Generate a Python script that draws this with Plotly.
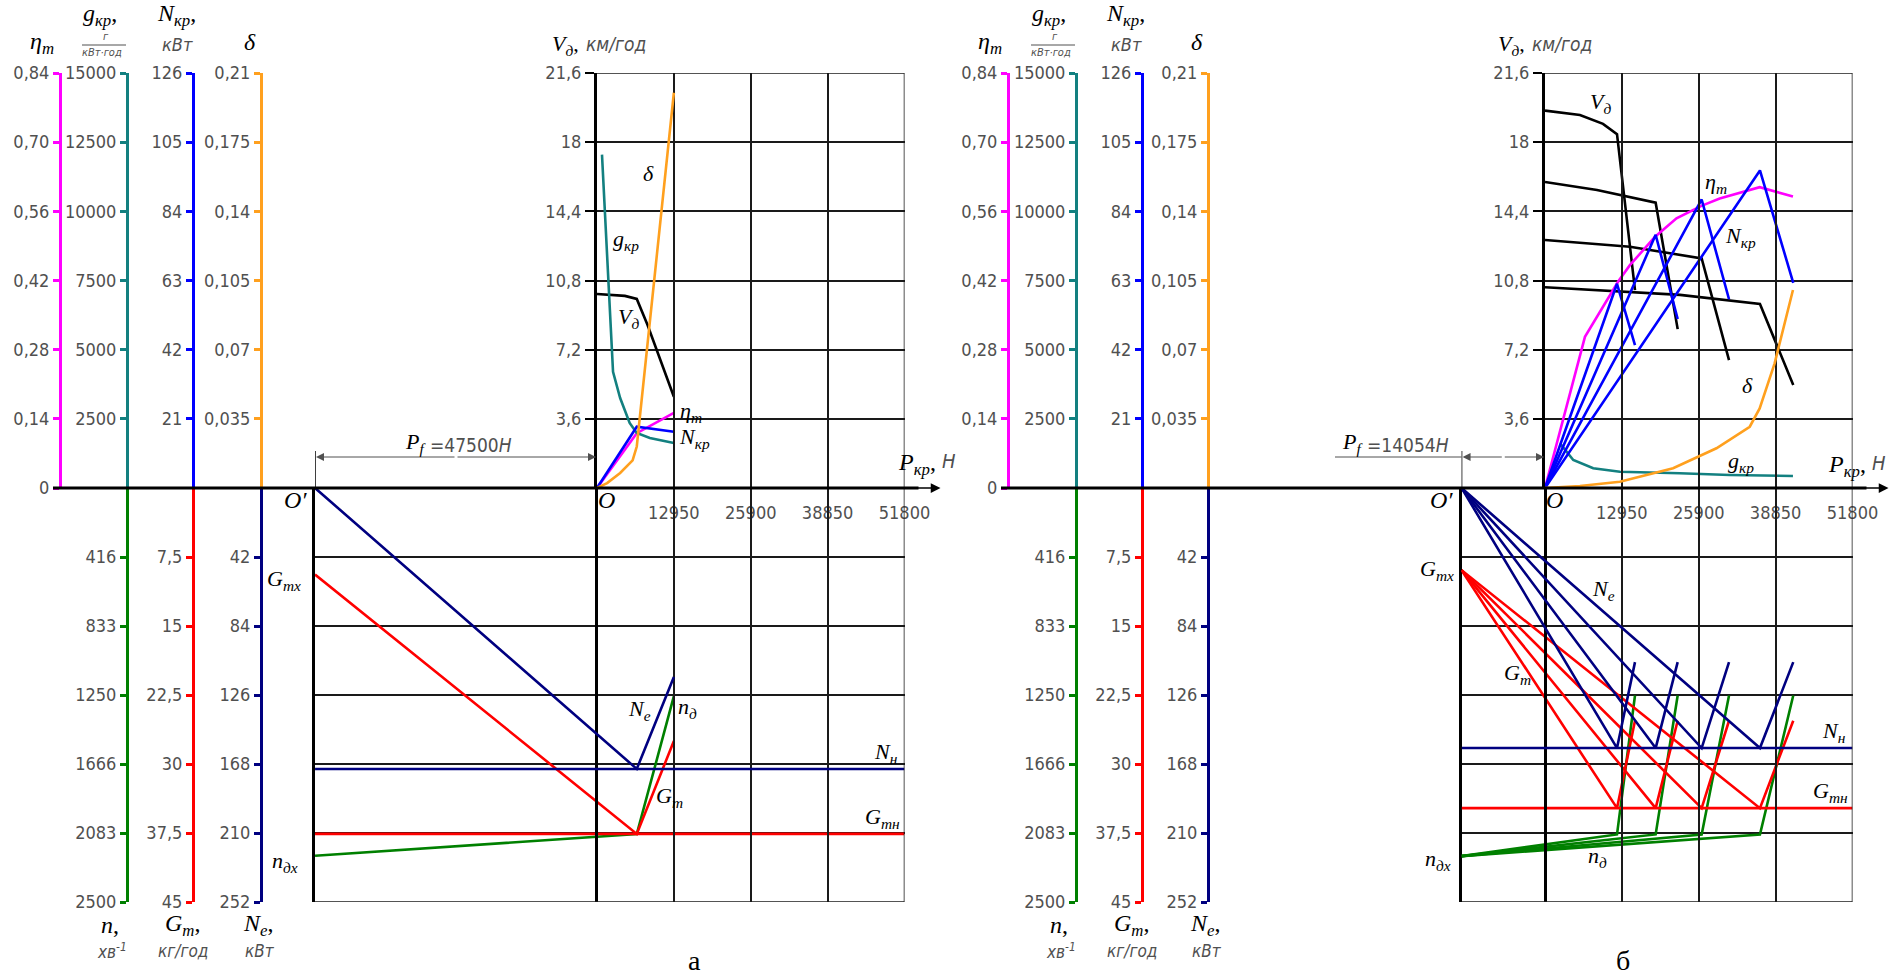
import plotly.graph_objects as go

W, H = 1899, 976

# ---------------- shared scales / tick labels ----------------
P_max = 51800
P_ticks = [12950, 25900, 38850, 51800]
P_ticktext = ["12950", "25900", "38850", "51800"]
V_range = [0, 21.6]
V_ticks = [3.6, 7.2, 10.8, 14.4, 18, 21.6]
V_ticktext = ["3,6", "7,2", "10,8", "14,4", "18", "21,6"]
eta_range = [0, 0.84]
eta_ticks = [0, 0.14, 0.28, 0.42, 0.56, 0.70, 0.84]
eta_ticktext = ["0", "0,14", "0,28", "0,42", "0,56", "0,70", "0,84"]
g_range = [0, 15000]
g_ticks = [2500, 5000, 7500, 10000, 12500, 15000]
g_ticktext = ["2500", "5000", "7500", "10000", "12500", "15000"]
Nkr_range = [0, 126]
Nkr_ticks = [21, 42, 63, 84, 105, 126]
Nkr_ticktext = ["21", "42", "63", "84", "105", "126"]
delta_range = [0, 0.21]
delta_ticks = [0.035, 0.07, 0.105, 0.14, 0.175, 0.21]
delta_ticktext = ["0,035", "0,07", "0,105", "0,14", "0,175", "0,21"]
n_range = [2500, 0]
n_ticks = [416.67, 833.33, 1250, 1666.67, 2083.33, 2500]
n_ticktext = ["416", "833", "1250", "1666", "2083", "2500"]
G_range = [45, 0]
G_ticks = [7.5, 15, 22.5, 30, 37.5, 45]
G_ticktext = ["7,5", "15", "22,5", "30", "37,5", "45"]
Ne_range = [252, 0]
Ne_ticks = [42, 84, 126, 168, 210, 252]
Ne_ticktext = ["42", "84", "126", "168", "210", "252"]

# ---------------- panel "а" ----------------
a_Pf = 47500
a_V_P = [[0, 4700, 6700, 8500, 12950]]
a_V = [[10.1, 10.0, 9.84, 8.5, 4.75]]
a_Nkr_P = [[0, 6700, 12950]]
a_Nkr = [[0, 18.6, 17.1]]
a_eta_P = [0, 6700, 12950]
a_eta = [0, 0.111, 0.152]
a_g_P = [840, 1850, 2700, 3900, 5500, 6700, 8900, 12950]
a_g = [12050, 7500, 4200, 3250, 2350, 1990, 1810, 1630]
a_delta_P = [0, 1700, 3900, 6000, 6700, 12950]
a_delta = [0, 0.0025, 0.0076, 0.014, 0.021, 0.200]
a_low_P = [[6700, 12950]]
a_Ne = [[171, 115]]
a_G = [[37.6, 27.5]]
a_n = [[2090, 1257]]
a_Ne_x, a_G_x, a_n_x = 0, 9.4, 2221
a_N_nom, a_G_nom = 171, 37.6

# ---------------- panel "б" ----------------
b_Pf = 14054
b_V_P = [[0, 5890, 9770, 12130, 15160],
         [0, 8760, 18640, 22350],
         [0, 14310, 26390, 31000],
         [0, 22740, 36210, 41820]]
b_V = [[19.64, 19.41, 18.95, 18.42, 10.3],
       [15.93, 15.51, 14.85, 8.27],
       [12.91, 12.56, 11.95, 6.66],
       [10.45, 10.05, 9.58, 5.36]]
b_Nkr_P = [[0, 12130, 15160], [0, 18640, 22350], [0, 26390, 31000], [0, 36210, 41820]]
b_Nkr = [[0, 62.0, 43.4], [0, 76.9, 51.3], [0, 87.6, 57.3], [0, 96.4, 62.3]]
b_eta_P = [0, 6730, 12330, 14300, 18500, 22150, 26350, 29430, 36160, 41770]
b_eta = [0, 0.306, 0.418, 0.451, 0.508, 0.546, 0.571, 0.586, 0.609, 0.590]
b_delta_P = [0, 5890, 12610, 21580, 28880, 34490, 36160, 38680, 41770]
b_delta = [0, 0.001, 0.0032, 0.0100, 0.0201, 0.031, 0.0403, 0.0631, 0.1002]
b_g_P = [2520, 4760, 8120, 12610, 22700, 31110, 41770]
b_g = [1615, 1012, 712, 590, 531, 470, 434]
b_low_P = [[12130, 15160], [18640, 22350], [26390, 31000], [36210, 41820]]
b_Ne = [[158.3, 106], [158.3, 106], [158.3, 106], [158.3, 106]]
b_G = [[34.8, 25.3], [34.8, 25.3], [34.8, 25.3], [34.8, 25.3]]
b_n = [[2092, 1253], [2092, 1253], [2092, 1253], [2092, 1253]]
b_Ne_x, b_G_x, b_n_x = 0, 8.93, 2223
b_N_nom, b_G_nom = 158.3, 34.8

# ---------------- styling ----------------
SERIF = "Liberation Serif, Times New Roman, serif"
SANS = "Liberation Sans Narrow, DejaVu Sans Condensed, Liberation Sans, sans-serif"
GRAY = "#505050"
TICKFONT = dict(family=SANS, size=18, color=GRAY)
C_ETA, C_G, C_NKR, C_D = "#ff00ff", "#138080", "#0000ff", "#ffa01e"
C_N, C_GT, C_NE = "#008000", "#ff0000", "#000080"
GRID = "#1a1a1a"

Y0, YT, YB = 488, 73, 902       # pixel rows: zero line, top, bottom
kpx = 307.5 / P_max              # pixels per newton


def fx(px):
    return px / W


def fy(py):
    return 1 - py / H


layout = dict(width=W, height=H, margin=dict(l=0, r=0, t=0, b=0),
              paper_bgcolor="white", plot_bgcolor="rgba(0,0,0,0)",
              showlegend=False)
traces = []
ann = []
shapes = []


def label(text, px, py, size=22, family=SERIF, color="black", xanchor="center"):
    ann.append(dict(text=text, x=fx(px), y=fy(py), xref="paper", yref="paper",
                    showarrow=False, xanchor=xanchor, yanchor="middle",
                    font=dict(family=family, size=size, color=color)))


def sym(main, sub=None, tail=""):
    s = f"<i>{main}</i>"
    if sub:
        s += f"<sub><i>{sub}</i></sub>"
    return s + tail


def free_y(color, pos, rng, tv, tt, domain):
    return dict(anchor="free", position=pos, range=rng, domain=domain,
                tickmode="array", tickvals=tv, ticktext=tt, showline=True,
                linecolor=color, linewidth=3, ticks="outside", ticklen=6,
                tickwidth=3, tickcolor=color, showgrid=False, zeroline=False,
                tickfont=TICKFONT, side="left", automargin=False, fixedrange=True)


def line(x, y, xa, ya, color, width=2.6):
    traces.append(go.Scatter(x=x, y=y, xaxis=xa, yaxis=ya, mode="lines",
                             line=dict(color=color, width=width),
                             hoverinfo="skip"))


def border(xr, yr, x0, x1, y0, y1):
    shapes.append(dict(type="line", xref=xr, yref=yr, x0=x0, x1=x1, y0=y0, y1=y1,
                       line=dict(color=GRID, width=1.5)))


def panel(p, O_px, Pf, ax_px, d, labels):
    xu, xl = 2 * p + 1, 2 * p + 2
    yb = 9 * p
    ids = {k: yb + i + 1 for i, k in enumerate(
        ["V", "L", "eta", "g", "Nkr", "delta", "n", "G", "Ne"])}

    def xn(i):
        return "x" if i == 1 else f"x{i}"

    def yn(i):
        return "y" if i == 1 else f"y{i}"

    def xk(i):
        return "xaxis" if i == 1 else f"xaxis{i}"

    def yk(i):
        return "yaxis" if i == 1 else f"yaxis{i}"

    right = O_px + P_max * kpx
    Oq = O_px - Pf * kpx
    dom_up = [fy(Y0), fy(YT)]
    dom_lo = [fy(YB), fy(Y0)]

    layout[xk(xu)] = dict(domain=[fx(O_px), fx(right)], anchor=yn(ids["V"]),
                          range=[0, P_max], tickmode="array", tickvals=P_ticks,
                          ticktext=P_ticktext, ticks="outside", ticklen=8,
                          tickcolor="rgba(0,0,0,0)", showgrid=True,
                          gridcolor=GRID, gridwidth=1.5, zeroline=False,
                          showline=False, tickfont=TICKFONT, automargin=False,
                          fixedrange=True)
    layout[xk(xl)] = dict(domain=[fx(Oq), fx(right)], anchor=yn(ids["L"]),
                          range=[-Pf, P_max], tickmode="array", tickvals=P_ticks,
                          showticklabels=False, showgrid=True, gridcolor=GRID,
                          gridwidth=1.5, zeroline=True, zerolinecolor="black",
                          zerolinewidth=3, showline=False, automargin=False,
                          fixedrange=True)
    layout[yk(ids["V"])] = dict(domain=dom_up, anchor=xn(xu), range=V_range,
                                tickmode="array", tickvals=V_ticks,
                                ticktext=V_ticktext, ticks="outside", ticklen=9,
                                tickwidth=2, tickcolor="black", showline=True,
                                linecolor="black", linewidth=3, showgrid=True,
                                gridcolor=GRID, gridwidth=1.5, zeroline=False,
                                tickfont=TICKFONT, automargin=False,
                                fixedrange=True)
    layout[yk(ids["L"])] = dict(domain=dom_lo, anchor=xn(xl), range=n_range,
                                tickmode="array", tickvals=n_ticks,
                                showticklabels=False, showline=True,
                                linecolor="black", linewidth=3, showgrid=True,
                                gridcolor=GRID, gridwidth=1.5, zeroline=False,
                                automargin=False, fixedrange=True)
    layout[yk(ids["eta"])] = free_y(C_ETA, fx(ax_px[0]), eta_range, eta_ticks, eta_ticktext, dom_up)
    layout[yk(ids["g"])] = free_y(C_G, fx(ax_px[1]), g_range, g_ticks, g_ticktext, dom_up)
    layout[yk(ids["Nkr"])] = free_y(C_NKR, fx(ax_px[2]), Nkr_range, Nkr_ticks, Nkr_ticktext, dom_up)
    layout[yk(ids["delta"])] = free_y(C_D, fx(ax_px[3]), delta_range, delta_ticks, delta_ticktext, dom_up)
    layout[yk(ids["n"])] = free_y(C_N, fx(ax_px[1]), n_range, n_ticks, n_ticktext, dom_lo)
    layout[yk(ids["G"])] = free_y(C_GT, fx(ax_px[2]), G_range, G_ticks, G_ticktext, dom_lo)
    layout[yk(ids["Ne"])] = free_y(C_NE, fx(ax_px[3]), Ne_range, Ne_ticks, Ne_ticktext, dom_lo)

    XU, XL = xn(xu), xn(xl)
    YV, YL = yn(ids["V"]), yn(ids["L"])
    # outer borders of the grids (top/right of the upper one, bottom/right of the lower one)
    border(XU, YV, 0, P_max, V_range[1], V_range[1])
    border(XU, YV, P_max, P_max, V_range[0], V_range[1])
    border(XL, YL, -Pf, P_max, n_range[0], n_range[0])
    border(XL, YL, P_max, P_max, n_range[0], n_range[1])

    # upper quadrant
    for P, V in zip(d["V_P"], d["V"]):
        line(P, V, XU, YV, "black")
    line(d["eta_P"], d["eta"], XU, yn(ids["eta"]), C_ETA)
    line(d["g_P"], d["g"], XU, yn(ids["g"]), C_G)
    for P, N in zip(d["Nkr_P"], d["Nkr"]):
        line(P, N, XU, yn(ids["Nkr"]), C_NKR)
    line(d["delta_P"], d["delta"], XU, yn(ids["delta"]), C_D)
    # lower quadrant
    for P, n in zip(d["low_P"], d["n"]):
        line([-Pf] + P, [d["n_x"]] + n, XL, yn(ids["n"]), C_N)
    line([-Pf, P_max], [d["G_nom"], d["G_nom"]], XL, yn(ids["G"]), C_GT)
    for P, G in zip(d["low_P"], d["G"]):
        line([-Pf] + P, [d["G_x"]] + G, XL, yn(ids["G"]), C_GT)
    line([-Pf, P_max], [d["N_nom"], d["N_nom"]], XL, yn(ids["Ne"]), C_NE)
    for P, N in zip(d["low_P"], d["Ne"]):
        line([-Pf] + P, [d["Ne_x"]] + N, XL, yn(ids["Ne"]), C_NE)

    # zero line with arrow
    shapes.append(dict(type="line", xref="paper", yref="paper",
                       x0=fx(ax_px[0] - 7), x1=fx(right + 14), y0=fy(Y0), y1=fy(Y0),
                       line=dict(color="black", width=3)))
    ann.append(dict(text="", x=fx(right + 36), y=fy(Y0), xref="paper", yref="paper",
                    ax=-30, ay=0, showarrow=True, arrowhead=2, arrowsize=1.3,
                    arrowwidth=1.5, arrowcolor="black"))
    # P_f dimension
    shapes.append(dict(type="line", xref=XL, yref="paper", x0=-Pf, x1=-Pf,
                       y0=fy(Y0), y1=fy(451), line=dict(color="black", width=1.5)))
    mid = (O_px + Oq) / 2
    for end in (O_px - 1, Oq + 1):
        ann.append(dict(text="", x=fx(end), y=fy(457), xref="paper", yref="paper",
                        ax=mid - end, ay=0, showarrow=True, arrowhead=2,
                        arrowsize=1.6, arrowwidth=1, arrowcolor=GRAY))
    if labels.get("dim_ext"):
        shapes.append(dict(type="line", xref="paper", yref="paper",
                           x0=fx(labels["dim_ext"]), x1=fx(Oq), y0=fy(457), y1=fy(457),
                           line=dict(color=GRAY, width=1)))
    px_, py_ = labels["Pf"]
    label(sym("P", "f"), px_ - 30, py_, 22, xanchor="right")
    label(f"<i>=</i>{Pf}<i>Н</i>", px_ - 30, py_ + 2, 19, SANS, GRAY, xanchor="left")

    # headers of the scales
    a0, a1, a2, a3 = ax_px
    label(sym("η", "т"), a0 - 18, 43, 24)
    label(sym("g", "кр", ","), a1 - 27, 15, 24)
    label("<i>г</i>", a1 - 21, 37, 11, SANS, GRAY)
    shapes.append(dict(type="line", xref="paper", yref="paper", x0=fx(a1 - 45),
                       x1=fx(a1 - 1), y0=fy(45), y1=fy(45),
                       line=dict(color=GRAY, width=1)))
    label("<i>кВт·год</i>", a1 - 25, 53, 11, SANS, GRAY)
    label(sym("N", "кр", ","), a2 - 17, 15, 24)
    label("<i>кВт</i>", a2 - 16, 45, 18, SANS, GRAY)
    label(sym("δ"), a3 - 11, 42, 24)
    label(sym("n", None, ","), a1 - 17, 925, 24)
    label("<i>хв<sup>-1</sup></i>", a1 - 15, 951, 17, SANS, GRAY)
    label(sym("G", "т", ","), a2 - 11, 925, 24)
    label("<i>кг/год</i>", a2 - 10, 951, 17, SANS, GRAY)
    label(sym("N", "e", ","), a3 - 3, 925, 24)
    label("<i>кВт</i>", a3 - 1, 951, 17, SANS, GRAY)
    # V axis title
    vx = labels["Vt"]
    label(sym("V", "д", ","), vx, 45, 22, xanchor="right")
    label("<i>км/год</i>", vx + 3, 44, 19, SANS, GRAY, xanchor="left")
    # P axis title
    px2, py2 = labels["Pkr"]
    label(sym("P", "кр", ","), px2, py2, 24, xanchor="right")
    label("<i>Н</i>", px2 + 2, py2 - 3, 20, SANS, GRAY, xanchor="left")
    label(sym("O"), O_px + 9, 500, 24)
    label(sym("O′"), Oq - 20, 500, 24)
    for txt, (x, y) in labels["curves"]:
        label(txt, x, y, 22)
    label(labels["name"], labels["name_x"], 960, 28, SERIF)


panel(0, 597, a_Pf, [60, 127, 193, 261],
      dict(V_P=a_V_P, V=a_V, Nkr_P=a_Nkr_P, Nkr=a_Nkr, eta_P=a_eta_P, eta=a_eta,
           g_P=a_g_P, g=a_g, delta_P=a_delta_P, delta=a_delta, low_P=a_low_P,
           Ne=a_Ne, G=a_G, n=a_n, Ne_x=a_Ne_x, G_x=a_G_x, n_x=a_n_x,
           N_nom=a_N_nom, G_nom=a_G_nom),
      dict(Pf=(458, 443), Vt=581, Pkr=(938, 464), name="а", name_x=694,
           curves=[(sym("δ"), (648, 173)), (sym("g", "кр"), (626, 240)),
                   (sym("V", "д"), (628, 318)), (sym("η", "т"), (691, 412)),
                   (sym("N", "кр"), (694, 438)), (sym("G", "тх"), (284, 580)),
                   (sym("n", "дх"), (285, 862)), (sym("N", "e"), (639, 710)),
                   (sym("n", "д"), (687, 708)), (sym("G", "т"), (669, 797)),
                   (sym("N", "н"), (886, 753)), (sym("G", "тн"), (882, 818))]))

panel(1, 1545, b_Pf, [1008, 1076, 1142, 1208],
      dict(V_P=b_V_P, V=b_V, Nkr_P=b_Nkr_P, Nkr=b_Nkr, eta_P=b_eta_P, eta=b_eta,
           g_P=b_g_P, g=b_g, delta_P=b_delta_P, delta=b_delta, low_P=b_low_P,
           Ne=b_Ne, G=b_G, n=b_n, Ne_x=b_Ne_x, G_x=b_G_x, n_x=b_n_x,
           N_nom=b_N_nom, G_nom=b_G_nom),
      dict(Pf=(1395, 443), Vt=1527, Pkr=(1868, 466), name="б", name_x=1623,
           dim_ext=1335,
           curves=[(sym("V", "д"), (1600, 103)), (sym("η", "т"), (1716, 183)),
                   (sym("N", "кр"), (1740, 237)), (sym("δ"), (1747, 385)),
                   (sym("g", "кр"), (1741, 462)), (sym("G", "тх"), (1437, 570)),
                   (sym("n", "дх"), (1438, 860)), (sym("N", "e"), (1603, 590)),
                   (sym("G", "т"), (1517, 674)), (sym("N", "н"), (1834, 732)),
                   (sym("G", "тн"), (1830, 792)), (sym("n", "д"), (1597, 857))]))

layout["annotations"] = ann
layout["shapes"] = shapes
fig = go.Figure(data=traces, layout=layout)
fig.write_html("out.html",
               config={"displayModeBar": False},
               post_script="document.body.style.margin='0';"
                           "document.body.style.overflow='hidden';")
